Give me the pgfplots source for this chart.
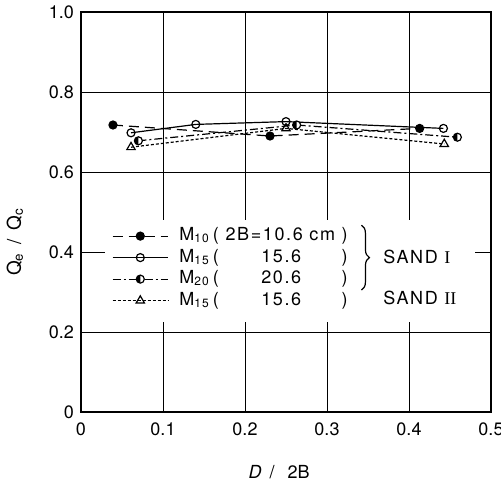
\documentclass[border=0pt]{standalone}
\usepackage{fontspec}
\setmainfont{TeX Gyre Heros}
\newfontfamily\romfont{Liberation Serif}
\usepackage{pgfplots}
\pgfplotsset{compat=1.18}
\usetikzlibrary{decorations.pathreplacing}
\newlength{\lw}
\newcommand{\lgt}[2]{\settowidth{\lw}{\ 2B=10.6 cm\ }\hspace{5.5pt}M\textsubscript{#1}\,(\makebox[\lw][l]{#2})}
\pgfdeclareplotmark{lhalf}{%
  \pgfpathcircle{\pgfpointorigin}{\pgfplotmarksize}%
  \pgfsetfillcolor{white}\pgfusepathqfillstroke
  \pgfpathmoveto{\pgfqpoint{0pt}{\pgfplotmarksize}}%
  \pgfpatharc{90}{270}{\pgfplotmarksize}%
  \pgfpathclose
  \pgfsetfillcolor{black}\pgfusepathqfill
}
\begin{document}
\begin{tikzpicture}
\useasboundingbox (-40.5pt,-35.5pt) rectangle (210pt,206pt);
\begin{axis}[
  scale only axis, width=205pt, height=200pt,
  xmin=0, xmax=0.5, ymin=0, ymax=1.0,
  xtick={0,0.1,0.2,0.3,0.4,0.5},
  xticklabels={0,0.1,0.2,0.3,0.4,0.5},
  ytick={0,0.2,0.4,0.6,0.8,1.0},
  yticklabels={0,0.2,0.4,0.6,0.8,1.0},
  /pgf/number format/assume math mode=true,
  ticklabel style={font=\fontsize{9}{10}\selectfont},
  xticklabel style={yshift=-2pt},
  major tick length=0pt,
  grid=major,
  major grid style={black, line width=0.5pt},
  axis line style={black, line width=0.8pt},
  xlabel={\textit{D} \,/\, \ 2B},
  ylabel={Q\textsubscript{e} \,/\, Q\textsubscript{c}},
  xlabel style={at={(axis description cs:0.483,-0.15)}, anchor=center, font=\fontsize{9}{10}\selectfont},
  ylabel style={at={(axis description cs:-0.161,0.425)}, anchor=center, font=\fontsize{9.5}{10}\selectfont},
  legend style={at={(axis cs:0.035,0.467)}, anchor=north west, draw=none, fill=none,
    font=\fontsize{9}{10}\selectfont\addfontfeature{LetterSpace=9}, row sep=2.25pt, inner sep=1pt,
    nodes={inner sep=0pt, text height=6.5pt, text depth=2pt}},
  legend cell align=left,
  legend image code/.code={\draw[mark repeat=2,mark phase=2,#1] plot coordinates {(0cm,0cm) (0.485cm,0cm) (0.97cm,0cm)};},
  every axis plot/.append style={black, line width=0.6pt, mark size=2pt},
]
\fill[white] (axis cs:0.029,0.225) rectangle (axis cs:0.48,0.48);
\addplot[dash pattern=on 5pt off 3pt, mark=*, mark options={solid, fill=black}]
  coordinates {(0.039,0.7175) (0.2305,0.690) (0.413,0.709)};
\addlegendentry{\lgt{10}{\ 2B=10.6 cm}}
\addplot[solid, mark=o, mark options={solid, fill=white}]
  coordinates {(0.061,0.698) (0.140,0.719) (0.250,0.726) (0.442,0.709)};
\addlegendentry{\lgt{15}{\phantom{\ 2B=}15.6}}
\addplot[dash pattern=on 4pt off 1.5pt on 1pt off 1.5pt, mark=lhalf, mark options={solid}]
  coordinates {(0.070,0.678) (0.263,0.7175) (0.459,0.687)};
\addlegendentry{\lgt{20}{\phantom{\ 2B=}20.6}}
\addplot[dash pattern=on 1.5pt off 1pt, mark=triangle, mark options={solid, fill=white}, mark size=2.4pt]
  coordinates {(0.061,0.662) (0.250,0.709) (0.443,0.670)};
\addlegendentry{\lgt{15}{\phantom{\ 2B=}15.6}}
\draw[decorate, decoration={brace, amplitude=4pt}, line width=0.6pt]
  (axis cs:0.342,0.467) -- (axis cs:0.342,0.305);
\node[anchor=west, font=\fontsize{9}{10}\selectfont\addfontfeature{LetterSpace=9}] at (axis cs:0.360,0.388) {SAND {\romfont I}};
\node[anchor=west, font=\fontsize{9}{10}\selectfont\addfontfeature{LetterSpace=9}] at (axis cs:0.360,0.284) {SAND {\romfont II}};
\end{axis}
\end{tikzpicture}
\end{document}
